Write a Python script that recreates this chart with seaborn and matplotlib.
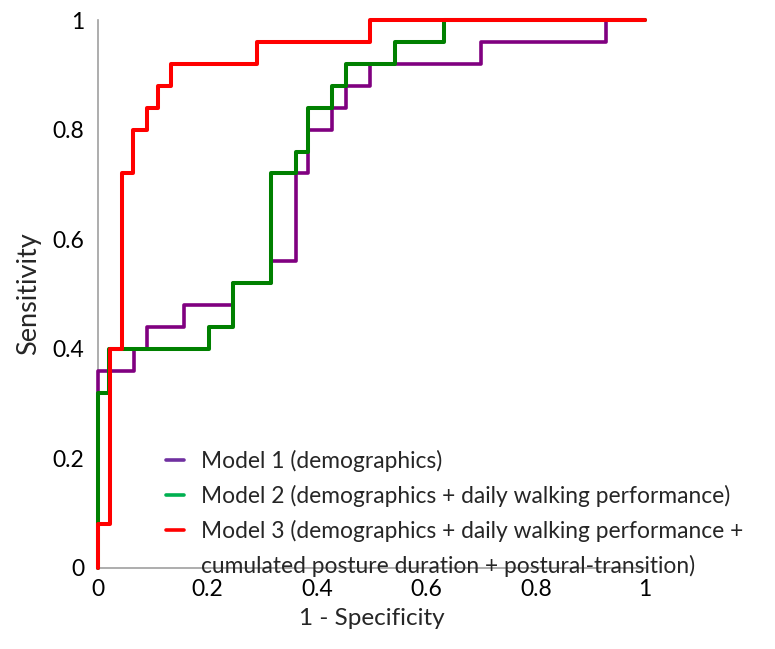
import matplotlib
matplotlib.use("Agg")
import matplotlib.pyplot as plt
from matplotlib.lines import Line2D
import seaborn as sns

# ROC staircase corners (1 - specificity, sensitivity)
m1_fpr = [0, 0, 0.065, 0.089, 0.158, 0.246, 0.317, 0.362, 0.384, 0.428, 0.453, 0.497, 0.70, 0.929, 1.0]
m1_tpr = [0, 0.36, 0.40, 0.44, 0.48, 0.52, 0.56, 0.72, 0.80, 0.84, 0.88, 0.92, 0.96, 1.0, 1.0]

m2_fpr = [0, 0, 0.02, 0.203, 0.246, 0.317, 0.362, 0.384, 0.428, 0.453, 0.542, 0.632, 1.0]
m2_tpr = [0, 0.32, 0.40, 0.44, 0.52, 0.72, 0.76, 0.84, 0.88, 0.92, 0.96, 1.0, 1.0]

m3_fpr = [0, 0, 0.022, 0.044, 0.064, 0.09, 0.11, 0.133, 0.29, 0.497, 1.0]
m3_tpr = [0, 0.08, 0.40, 0.72, 0.80, 0.84, 0.88, 0.92, 0.96, 1.0, 1.0]

labels = [
    "Model 1 (demographics)",
    "Model 2 (demographics + daily walking performance)",
    "Model 3 (demographics + daily walking performance +",
    "cumulated posture duration + postural-transition)",
]
ticks = [0, 0.2, 0.4, 0.6, 0.8, 1]
tick_labels = ["0", "0.2", "0.4", "0.6", "0.8", "1"]

sns.set_style("white")
plt.rcParams["font.family"] = ["Lato", "DejaVu Sans"]

fig = plt.figure(figsize=(7.75, 6.49), dpi=100)
ax = fig.add_axes([0.1265, 0.125, 0.706, 0.844])

curves = [(m1_fpr, m1_tpr, "#800080", 2.6),
          (m2_fpr, m2_tpr, "#008000", 2.9),
          (m3_fpr, m3_tpr, "#ff0000", 2.9)]
for fpr, tpr, col, lw in curves:
    sns.lineplot(x=fpr, y=tpr, ax=ax, color=col, linewidth=lw,
                 drawstyle="steps-post", sort=False, estimator=None,
                 clip_on=False, zorder=3)

ax.set_xlim(0, 1)
ax.set_ylim(0, 1)
ax.set_xticks(ticks)
ax.set_xticklabels(tick_labels)
ax.set_yticks(ticks)
ax.set_yticklabels(tick_labels)
ax.tick_params(axis="both", length=0, labelsize=16.5, colors="black")
ax.tick_params(axis="y", pad=10)
ax.tick_params(axis="x", pad=8)
for s in ["top", "right"]:
    ax.spines[s].set_visible(False)
for s in ["left", "bottom"]:
    ax.spines[s].set_color("#a0a0a0")
    ax.spines[s].set_linewidth(1.2)
    ax.spines[s].set_zorder(1)
ax.set_xlabel("1 - Specificity", fontsize=17.5, labelpad=6)
ax.set_ylabel("Sensitivity", fontsize=19.5, labelpad=8)

# legend handles use the lighter Office colours; last row is the wrapped text
handles = [Line2D([], [], color="#7030a0", lw=2.6),
           Line2D([], [], color="#00b050", lw=2.6),
           Line2D([], [], color="#ff0000", lw=2.6),
           Line2D([], [], color="none", lw=0)]
ax.legend(handles, labels, loc="upper left", bbox_to_anchor=(0.199, 0.325),
          bbox_transform=fig.transFigure, frameon=False, fontsize=16.4,
          handlelength=0.8, handletextpad=0.75, labelspacing=0.57,
          borderpad=0)

fig.savefig("out.png", dpi=100)
